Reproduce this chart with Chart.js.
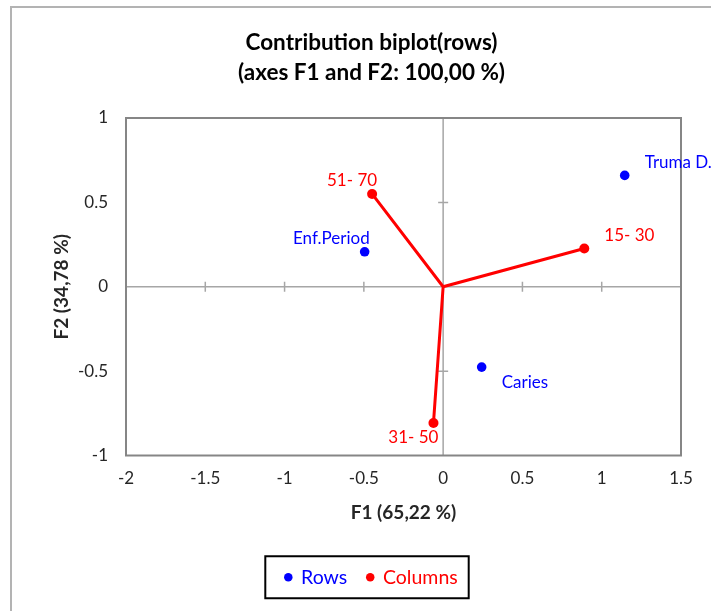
<!DOCTYPE html>
<html>
<head>
<meta charset="utf-8">
<script src="https://cdn.jsdelivr.net/npm/chart.js@4.4.1/dist/chart.umd.min.js"></script>
<style>
  html, body { margin: 0; padding: 0; background: #fff; }
  #wrap { width: 711px; height: 611px; }
</style>
</head>
<body>
<div id="wrap"><canvas id="biplot" width="711" height="611"></canvas></div>
<script>
// Linhas (pontos azuis)
const rowLabels = ['Truma D.', 'Enf.Period', 'Caries'];
const rowF1 = [1.145, -0.495, 0.243];
const rowF2 = [0.66, 0.207, -0.476];

// Colunas (pontos vermelhos, ligados à origem)
const colLabels = ['51- 70', '15- 30', '31- 50'];
const colF1 = [-0.448, 0.89, -0.061];
const colF2 = [0.55, 0.227, -0.807];

// onde fica cada etiqueta em relação ao ponto
const rowSide = ['right-up', 'left-up', 'right-down'];
const colSide = ['left-up', 'right-up', 'left-down'];

const xTicks = [-2, -1.5, -1, -0.5, 0, 0.5, 1, 1.5];
const yTicks = [-1, -0.5, 0, 0.5, 1];

const FONT = 'Lato, "DejaVu Sans", sans-serif';
const BLUE = '#0000ff';
const RED = '#ff0000';

const rowData = rowLabels.map((name, i) => ({ x: rowF1[i], y: rowF2[i], name, side: rowSide[i] }));
const colData = [];
colLabels.forEach((name, i) => {
    colData.push({ x: 0, y: 0, origin: true });
    colData.push({ x: colF1[i], y: colF2[i], name, side: colSide[i] });
});

// moldura, eixos centrais e etiquetas
const decor = {
    id: 'decor',
    beforeDraw(chart) {
        const ctx = chart.ctx;
        ctx.save();
        ctx.strokeStyle = '#b3b3b3';
        ctx.lineWidth = 2;
        ctx.beginPath();
        ctx.moveTo(11, 611);
        ctx.lineTo(11, 7);
        ctx.lineTo(711, 7);
        ctx.stroke();
        ctx.restore();
    },
    beforeDatasetsDraw(chart) {
        const { ctx, chartArea: a, scales: { x, y } } = chart;
        const x0 = x.getPixelForValue(0), y0 = y.getPixelForValue(0);
        ctx.save();
        ctx.strokeStyle = '#a6a6a6';
        ctx.lineWidth = 1.5;
        ctx.beginPath();
        ctx.moveTo(a.left, y0); ctx.lineTo(a.right, y0);
        ctx.moveTo(x0, a.top); ctx.lineTo(x0, a.bottom);
        xTicks.forEach(v => {
            if (v === 0 || v === xTicks[0] || v === xTicks[xTicks.length - 1]) return;
            const px = x.getPixelForValue(v);
            ctx.moveTo(px, y0 - 5); ctx.lineTo(px, y0 + 5);
        });
        yTicks.forEach(v => {
            if (v === 0 || v === yTicks[0] || v === yTicks[yTicks.length - 1]) return;
            const py = y.getPixelForValue(v);
            ctx.moveTo(x0 - 5, py); ctx.lineTo(x0 + 5, py);
        });
        ctx.stroke();
        ctx.strokeStyle = '#868686';
        ctx.lineWidth = 2;
        ctx.strokeRect(a.left, a.top, a.right - a.left, a.bottom - a.top);
        ctx.restore();
    },
    afterDatasetsDraw(chart) {
        const ctx = chart.ctx;
        ctx.save();
        ctx.font = '17px ' + FONT;
        ctx.textBaseline = 'middle';
        chart.data.datasets.forEach((ds, di) => {
            const meta = chart.getDatasetMeta(di);
            ds.data.forEach((p, i) => {
                if (!p.name) return;
                const el = meta.data[i];
                const [h, v] = p.side.split('-');
                ctx.fillStyle = ds.borderColor;
                ctx.textAlign = h === 'right' ? 'left' : 'right';
                const tx = h === 'right' ? el.x + 20 : el.x + 5;
                const ty = v === 'up' ? el.y - 13 : el.y + 15;
                ctx.fillText(p.name, tx, ty);
            });
        });
        // caixa da legenda
        const boxes = chart.legend.legendHitBoxes;
        if (boxes && boxes.length) {
            const first = boxes[0], last = boxes[boxes.length - 1];
            const cy = first.top + first.height / 2;
            ctx.strokeStyle = '#000';
            ctx.lineWidth = 2;
            ctx.strokeRect(first.left - 20, cy - 21, last.left + last.width - first.left + 31, 42);
        }
        ctx.restore();
    }
};

new Chart(document.getElementById('biplot'), {
    type: 'scatter',
    data: {
        datasets: [{
            label: 'Rows',
            data: rowData,
            backgroundColor: BLUE,
            borderColor: BLUE,
            pointRadius: 4.8,
            pointHoverRadius: 4.8,
            pointBorderWidth: 0,
            showLine: false
        }, {
            label: 'Columns',
            data: colData,
            backgroundColor: RED,
            borderColor: RED,
            borderWidth: 3,
            pointBorderWidth: 0,
            pointRadius: c => (c.raw && c.raw.origin ? 0 : 5),
            pointHoverRadius: c => (c.raw && c.raw.origin ? 0 : 5),
            showLine: true,
            tension: 0
        }]
    },
    options: {
        responsive: false,
        animation: false,
        events: [],
        layout: { padding: { left: 32, right: 0, top: 0, bottom: 14 } },
        plugins: {
            tooltip: { enabled: false },
            title: {
                display: true,
                text: ['Contribution biplot(rows)', '(axes F1 and F2: 100,00 %)'],
                color: '#000',
                font: { family: FONT, size: 22.5, weight: 'bold', lineHeight: 30 / 22.5 },
                padding: { top: 28, bottom: 30 }
            },
            legend: {
                position: 'bottom',
                labels: {
                    usePointStyle: true,
                    pointStyle: 'circle',
                    boxWidth: 6,
                    boxHeight: 6,
                    padding: 20,
                    font: { family: FONT, size: 19.5 },
                    generateLabels: chart => chart.data.datasets.map((ds, i) => ({
                        text: ds.label,
                        fillStyle: ds.backgroundColor,
                        strokeStyle: ds.backgroundColor,
                        fontColor: ds.backgroundColor,
                        lineWidth: 0,
                        pointStyle: 'circle',
                        datasetIndex: i
                    }))
                }
            }
        },
        scales: {
            x: {
                type: 'linear',
                min: -2,
                max: 1.5,
                afterBuildTicks: s => { s.ticks = xTicks.map(v => ({ value: v })); },
                afterFit: s => { s.height = 92; },
                grid: { display: false, drawTicks: false },
                border: { display: false },
                ticks: { color: '#262626', font: { family: FONT, size: 17 }, padding: 13, callback: v => String(v) },
                title: {
                    display: true,
                    text: 'F1 (65,22 %)',
                    color: '#262626',
                    font: { family: FONT, size: 19, weight: 'bold' },
                    padding: { top: 0, bottom: 23.5 }
                }
            },
            y: {
                type: 'linear',
                min: -1,
                max: 1,
                afterBuildTicks: s => { s.ticks = yTicks.map(v => ({ value: v })); },
                afterFit: s => { s.width = 94; },
                grid: { display: false, drawTicks: false },
                border: { display: false },
                ticks: { color: '#262626', font: { family: FONT, size: 17 }, padding: 18, callback: v => String(v) },
                title: {
                    display: true,
                    text: 'F2 (34,78 %)',
                    color: '#262626',
                    font: { family: FONT, size: 19, weight: 'bold' },
                    padding: { top: 18.5, bottom: 0 }
                }
            },
            yRight: {
                type: 'linear',
                position: 'right',
                display: true,
                afterFit: s => { s.width = 30; },
                grid: { display: false, drawTicks: false },
                border: { display: false },
                ticks: { display: false }
            }
        }
    },
    plugins: [decor]
});
</script>
</body>
</html>
